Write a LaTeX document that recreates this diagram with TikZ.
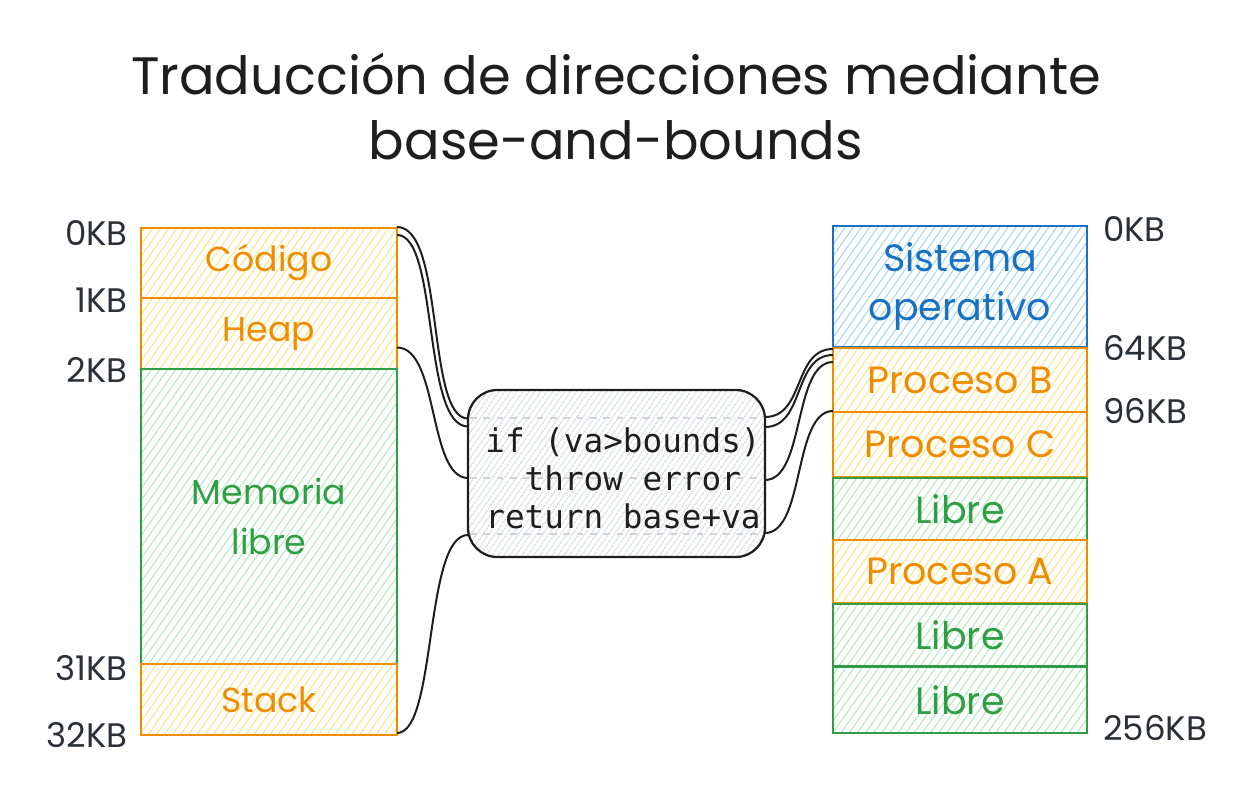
\documentclass[tikz,border=0pt]{standalone}
\usepackage{fontspec}
\setmainfont{Poppins}
\newfontfamily\codefont{DejaVu Sans Mono}
\usetikzlibrary{patterns.meta,calc}
\definecolor{ink}{HTML}{1E1E1E}
\definecolor{kb}{HTML}{2B2F36}
\definecolor{orS}{HTML}{F08C00}
\definecolor{orH}{HTML}{FFE27A}
\definecolor{grS}{HTML}{2F9E44}
\definecolor{grH}{HTML}{A9EBB2}
\definecolor{blS}{HTML}{1971C2}
\definecolor{blH}{HTML}{9CD2FA}
\definecolor{gyH}{HTML}{C4CAD0}
\definecolor{gyD}{HTML}{CED4DA}
\tikzset{
  blk/.style={draw, line width=2pt, inner sep=0pt, outer sep=0pt, align=center,
    font=\fontsize{26}{37}\selectfont},
  rblk/.style={font=\fontsize{28.5}{37}\selectfont},
  orblk/.style={blk, draw=orS, text=orS, pattern={Lines[angle=55,distance=5pt,line width=0.7pt]}, pattern color=orH},
  grblk/.style={blk, draw=grS, text=grS, pattern={Lines[angle=55,distance=5pt,line width=0.7pt]}, pattern color=grH},
  blblk/.style={blk, draw=blS, text=blS, pattern={Lines[angle=55,distance=5pt,line width=0.7pt]}, pattern color=blH},
  kblab/.style={text=kb, inner sep=0pt, font=\fontsize{25.5}{28}\selectfont},
  wire/.style={draw=ink, line width=1.5pt},
  binding/.style={draw=gyD, line width=1.3pt, dash pattern=on 5pt off 5pt},
}
\begin{document}
\begin{tikzpicture}[x=0.75pt,y=-0.75pt]
\useasboundingbox (0,0) rectangle (1250,795);
% title
\node[text=ink, font=\fontsize{39.5}{48.75}\selectfont, align=center] (title) at (616,106)
  {Traducción de direcciones mediante\\base-and-bounds};
% left column
\node[orblk, minimum width=192pt, minimum height=52.5pt] (codigo) at (269,263) {Código};
\node[orblk, minimum width=192pt, minimum height=53.25pt] (heap) at (269,333.5) {Heap};
\node[grblk, minimum width=192pt, minimum height=221.25pt] (memoria) at (269,516.5) {Memoria\\libre};
\node[orblk, minimum width=192pt, minimum height=53.25pt] (stack) at (269,699.5) {Stack};
% right column
\node[blblk, rblk, minimum width=190.5pt, minimum height=90.75pt] (so) at (960,286.5) {Sistema\\operativo};
\node[orblk, rblk, minimum width=190.5pt, minimum height=48pt] (pb) at (960,380) {Proceso B};
\node[orblk, rblk, minimum width=190.5pt, minimum height=48.75pt] (pc) at (960,444.5) {Proceso C};
\node[grblk, rblk, minimum width=190.5pt, minimum height=46.5pt] (l1) at (960,509) {Libre};
\node[orblk, rblk, minimum width=190.5pt, minimum height=47.25pt] (pa) at (960,571.5) {Proceso A};
\node[grblk, rblk, minimum width=190.5pt, minimum height=46.5pt] (l2) at (960,635) {Libre};
\node[grblk, rblk, minimum width=190.5pt, minimum height=49.5pt] (l3) at (960,700) {Libre};
% KB labels
\node[kblab, anchor=east] (k0) at (128,233) {0KB};
\node[kblab, anchor=east] (k1) at (128,300) {1KB};
\node[kblab, anchor=east] (k2) at (128,370) {2KB};
\node[kblab, anchor=east] (k31) at (128,668) {31KB};
\node[kblab, anchor=east] (k32) at (128,735) {32KB};
\node[kblab, anchor=west] (r0) at (1103,229) {0KB};
\node[kblab, anchor=west] (r64) at (1103,348) {64KB};
\node[kblab, anchor=west] (r96) at (1103,411) {96KB};
\node[kblab, anchor=west] (r256) at (1103,728) {256KB};
% code box
\node[draw=ink, line width=1.7pt, rounded corners=22pt, inner sep=0pt, outer sep=0pt,
  minimum width=222.75pt, minimum height=125.25pt,
  pattern={Lines[angle=55,distance=4pt,line width=0.6pt]}, pattern color=gyH] (code) at (616.5,473.5) {};
\draw[binding] ($(code.west)+(2,-55.5)$) -- ($(code.east)+(-2,-55.5)$);
\draw[binding] ($(code.west)+(2,4.5)$) -- ($(code.east)+(-2,4.5)$);
\draw[binding] ($(code.west)+(2,60.5)$) -- ($(code.east)+(-2,60.5)$);
\node[text=ink, align=left, inner sep=0pt, font=\codefont\fontsize{24.5}{28.5}\selectfont] (codetxt) at (623,478)
  {if (va>bounds)\\\phantom{xx}throw error\\return base+va};
% left wires
\draw[wire] ($(codigo.north east)+(0,-1)$) .. controls +(48,0) and +(-42,0) .. ($(code.west)+(0,-55)$);
\draw[wire] ($(codigo.north east)+(0,7)$) .. controls +(42,0) and +(-46,0) .. ($(code.west)+(0,-47)$);
\draw[wire] ($(heap.east)+(0,14)$) .. controls +(42,0) and +(-40,0) .. ($(code.west)+(0,4.5)$);
\draw[wire] ($(stack.south east)+(0,-2)$) .. controls +(40,0) and +(-44,0) .. ($(code.west)+(0,61.5)$);
% right wires
\draw[wire] ($(code.east)+(0,-56.5)$) .. controls +(40,0) and +(-40,0) .. ($(pb.north west)+(0,1)$);
\draw[wire] ($(code.east)+(0,-46.5)$) .. controls +(40,0) and +(-40,0) .. ($(pb.north west)+(0,7)$);
\draw[wire] ($(code.east)+(0,6.5)$) .. controls +(40,0) and +(-40,0) .. ($(pb.north west)+(0,14)$);
\draw[wire] ($(code.east)+(0,59.5)$) .. controls +(40,0) and +(-40,0) .. ($(pc.north west)+(0,-1)$);
\end{tikzpicture}
\end{document}
